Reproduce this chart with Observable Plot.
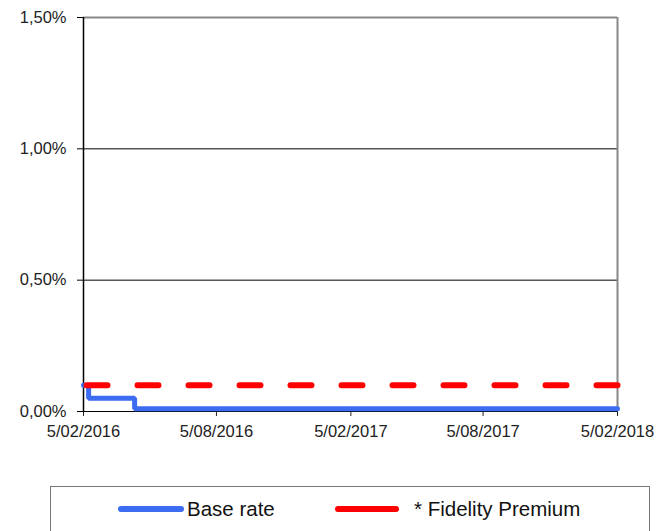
<!DOCTYPE html>
<html>
<head>
<meta charset="utf-8">
<script src="https://cdn.jsdelivr.net/npm/d3@7"></script>
<script src="https://cdn.jsdelivr.net/npm/@observablehq/plot@0.6"></script>
<style>
  body { margin: 0; background: #fff; font-family: "Liberation Sans", Arial, sans-serif; }
  #wrap { position: relative; width: 666px; height: 531px; overflow: hidden; }
  #legend { position: absolute; left: 50px; top: 486px; width: 600px; height: 60px;
    border: 1px solid #777; box-sizing: border-box; font-size: 20.5px; color: #111; }
  .item { position: absolute; top: 10px; display: flex; align-items: center; }
  .sw { display: inline-block; height: 6px; border-radius: 3px; margin-right: 3px; }
</style>
</head>
<body>
<div id="wrap">
  <div id="chart"></div>
  <div id="legend">
    <div class="item" style="left:67px"><span class="sw" style="width:66px;background:#3b6cf2"></span><span>Base rate</span></div>
    <div class="item" style="left:284px"><span class="sw" style="width:64px;background:#ff0000;margin-right:15px"></span><span>* Fidelity Premium</span></div>
  </div>
</div>
<script>
const baseDates = ["2016-02-05", "2016-02-12", "2016-04-15", "2018-02-05"];
const baseValues = [0.10, 0.05, 0.01, 0.01];
const premiumDates = ["2016-02-05", "2018-02-05"];
const premiumValues = [0.10, 0.10];
const xTicks = ["2016-02-05", "2016-08-05", "2017-02-05", "2017-08-05", "2018-02-05"];
const yTicks = [0, 0.5, 1.0, 1.5];

const parse = d3.utcParse("%Y-%m-%d");
const base = baseDates.map((d, i) => ({date: parse(d), v: baseValues[i]}));
const premium = premiumDates.map((d, i) => ({date: parse(d), v: premiumValues[i]}));
const xt = xTicks.map(parse);
const fmtDate = d3.utcFormat("%-d/%m/%Y");
const fmtPct = d => d.toFixed(2).replace(".", ",") + "%";

const plot = Plot.plot({
  width: 666,
  height: 460,
  marginLeft: 83,
  marginRight: 49,
  marginTop: 17,
  marginBottom: 49,
  style: {fontFamily: "Liberation Sans, Arial, sans-serif", fontSize: "16.5px", color: "#222", background: "#fff", overflow: "visible"},
  x: {type: "utc", domain: [xt[0], xt[xt.length - 1]]},
  y: {domain: [0, 1.5]},
  marks: [
    Plot.gridY(yTicks.slice(1, 3), {stroke: "#000", strokeOpacity: 1, strokeWidth: 1}),
    Plot.ruleY([1.5], {stroke: "#888", strokeWidth: 2}),
    Plot.ruleX([xt[xt.length - 1]], {stroke: "#888", strokeWidth: 2}),
    Plot.axisY({ticks: yTicks, tickFormat: fmtPct, tickSize: 6, tickPadding: 11, stroke: "#000", label: null, fill: "#222", fontSize: 16.5}),
    Plot.axisX({ticks: xt, tickFormat: fmtDate, tickSize: 5, tickPadding: 9, label: null, fill: "#222", fontSize: 16.5}),
    Plot.ruleX([xt[0]], {stroke: "#000", strokeWidth: 1.5}),
    Plot.ruleY([0], {stroke: "#000", strokeWidth: 1}),
    Plot.line(base, {x: "date", y: "v", curve: "step-after", stroke: "#3b6cf2", strokeWidth: 5, strokeLinejoin: "miter"}),
    Plot.line(premium, {x: "date", y: "v", stroke: "#ff0000", strokeWidth: 6, strokeDasharray: "21,30", strokeDashoffset: -3, strokeLinecap: "round"})
  ]
});
document.getElementById("chart").appendChild(plot);
</script>
</body>
</html>
